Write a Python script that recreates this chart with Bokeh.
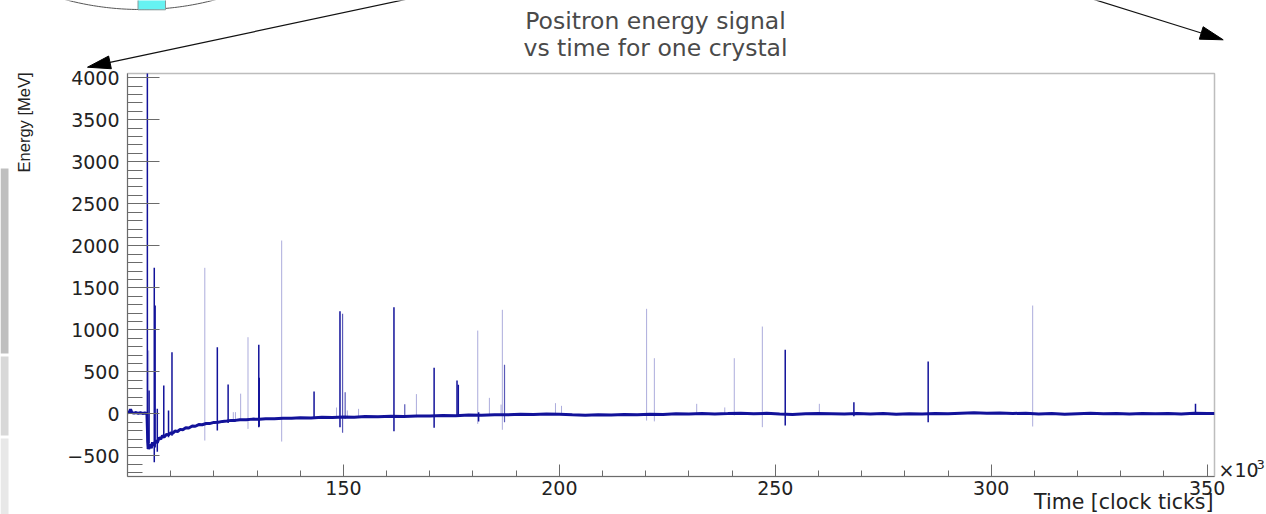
import numpy as np
from bokeh.plotting import figure
from bokeh.models import ColumnDataSource, FixedTicker, Range1d
from bokeh.core.properties import value
from bokeh.embed import file_html
from bokeh.resources import INLINE

# ---------------- data ----------------
base_t = [100.0, 100.4, 100.7, 101.0, 101.5, 102.0, 102.5, 103.0, 103.5, 104.0, 104.5,
          104.7, 104.9, 105.2, 105.5, 105.8, 106.1, 106.5, 106.9, 107.3, 107.7, 108.1,
          108.5, 109.0, 109.5, 110.0, 110.5, 111.0, 111.6, 112.2, 112.8, 113.5, 114.2,
          115.0, 115.7, 116.5, 117.3, 118.2, 119.0, 120.0, 121.0, 122.0, 123.0, 124.0,
          125.0, 126.0, 127.5, 129.0, 130.5, 132.0, 134.0, 136.0, 138.0, 140.0, 142.5,
          145.0, 147.5, 150.0, 152.5, 155.0, 158.0, 161.0, 164.0, 167.0, 170.0, 173.0,
          176.0, 179.0, 182.0, 185.0, 188.0, 191.0, 194.0, 197.0, 200.0, 203.0, 206.0,
          209.0, 212.0, 215.0, 218.0, 221.0, 224.0, 227.0, 230.0, 233.0, 236.0, 239.0,
          242.0, 245.0, 248.0, 251.0, 254.0, 257.0, 260.0, 263.0, 266.0, 269.0, 272.0,
          275.0, 278.0, 281.0, 284.0, 287.0, 290.0, 293.0, 296.0, 299.0, 302.0, 305.0,
          308.0, 311.0, 314.0, 317.0, 320.0, 323.0, 326.0, 329.0, 332.0, 335.0, 338.0,
          341.0, 344.0, 347.0, 350.0, 351.7]
base_e = [12, 18, 55, 14, 8, 15, 6, 12, 5, 10, 4,
          -330, -420, -360, -410, -340, -380, -320, -345, -285, -300, -262,
          -275, -245, -250, -228, -232, -205, -210, -185, -190, -165, -168,
          -145, -148, -128, -130, -115, -116, -102, -100, -90, -86, -78,
          -78, -70, -70, -63, -64, -58, -60, -52, -54, -47, -49,
          -42, -44, -37, -40, -33, -36, -30, -32, -25, -27, -20,
          -22, -15, -16, -10, -12, -6, -8, -2, -4, -12, -18,
          -10, -15, -8, -12, -4, -8, 1, -3, 4, -1, 3,
          8, 2, 6, -2, -8, 0, 5, 2, -3, 4, -2,
          3, -4, 2, -3, 5, 0, 8, 12, 6, 10, 4,
          8, -2, 3, -5, 2, 6, 0, 5, -2, 3, 0,
          4, -1, 6, 3, 5]

spike_t = [104.6, 104.9, 105.0, 106.2, 106.4, 106.9, 108.4, 109.5, 110.3, 117.9,
           120.8, 123.3, 124.5, 125.0, 126.2, 127.9, 130.4, 130.5, 135.7, 143.2,
           148.4, 149.2, 149.8, 150.4, 150.9, 153.5, 161.7, 164.2, 166.9, 171.0,
           176.3, 176.6, 181.1, 181.3, 183.8, 186.5, 186.8, 187.3, 199.1, 200.5,
           220.2, 222.0, 231.8, 238.3, 240.5, 247.0, 252.3, 260.2, 268.2, 285.4,
           309.6, 347.3]
spike_top = [4100, 754, 277, 1738, 1289, 60, 337, 40, 733, 1738,
             793, 349, 20, 20, 240, 912, 821, 428, 2063, 265,
             75, 1221, 1190, 257, 40, 59, 1269, 115, 235, 547,
             396, 345, 991, 20, 190, 110, 1238, 583, 127, 95,
             1250, 662, 119, 76, 662, 1039, 762, 119, 138, 623,
             1289, 119]
spike_bottom = [-420, -300, -350, -576, -400, -450, -290, -280, -260, -318,
                -199, -110, -90, -90, -80, -179, -159, -150, -330, -50,
                -40, -159, -226, -60, -50, -45, -207, -40, -40, -167,
                -30, -30, -120, -90, -20, -20, -190, -100, -10, -10,
                -80, -90, -10, -10, -20, -159, -139, -10, -30, -100,
                -151, -10]
spike_kind = ["dark", "light", "dark", "dark", "dark", "dark", "dark", "dark", "dark", "light",
              "dark", "dark", "light", "light", "light", "light", "dark", "dark", "light", "dark",
              "light", "dark", "mid", "mid", "light", "light", "dark", "mid", "light", "dark",
              "dark", "dark", "light", "dark", "light", "light", "light", "mid", "light", "light",
              "light", "light", "light", "light", "light", "light", "dark", "light", "dark", "dark",
              "light", "dark"]

x_major = [150, 200, 250, 300, 350]
x_minor = [110, 120, 130, 140, 160, 170, 180, 190, 210, 220, 230, 240, 260, 270, 280,
           290, 310, 320, 330, 340]
y_major = [-500, 0, 500, 1000, 1500, 2000, 2500, 3000, 3500, 4000]
y_minor = [v for v in range(-700, 4001, 100)]

title_lines = ["Positron energy signal", "vs time for one crystal"]
x_title = "Time [clock ticks]"
y_title = "Energy [MeV]"

# ---------------- layout ----------------
W, H = 1266, 514
FL, FR, FT, FB = 127, 1214, 73, 476      # frame edges in canvas pixels

LINE = "#12129a"
kind_alpha = {"dark": 1.0, "mid": 0.7, "light": 0.35}
kind_width = {"dark": 1.5, "mid": 1.2, "light": 1.0}

p = figure(width=W, height=H, output_backend="svg", toolbar_location=None,
           x_range=Range1d(100, 351.7), y_range=Range1d(-746, 4051),
           min_border_left=FL, min_border_right=W - FR,
           min_border_top=FT, min_border_bottom=H - FB)
p.background_fill_color = "white"
p.border_fill_color = "white"
p.grid.visible = False
p.outline_line_color = "#bdbdbd"
p.outline_line_width = 1.5

p.xaxis.ticker = FixedTicker(ticks=x_major, minor_ticks=x_minor)
p.yaxis.ticker = FixedTicker(ticks=y_major, minor_ticks=y_minor)
for ax in (p.xaxis, p.yaxis):
    ax.axis_line_color = "#6b6b6b"
    ax.major_tick_line_color = "#6b6b6b"
    ax.minor_tick_line_color = "#6b6b6b"
    ax.major_tick_out = 0
    ax.minor_tick_out = 0
    ax.major_label_text_font = "DejaVu Sans"
    ax.major_label_text_font_size = "19px"
    ax.major_label_text_color = "#222222"
p.xaxis.major_tick_in = 12
p.xaxis.minor_tick_in = 6
p.xaxis.major_label_standoff = 4
p.yaxis.major_tick_in = 32
p.yaxis.minor_tick_in = 15
p.yaxis.major_label_standoff = 8

src = ColumnDataSource(dict(
    t=spike_t, top=spike_top, bottom=spike_bottom,
    alpha=[kind_alpha[k] for k in spike_kind],
    w=[kind_width[k] for k in spike_kind]))
p.segment(x0="t", y0="bottom", x1="t", y1="top", source=src,
          line_color=LINE, line_alpha="alpha", line_width="w")
p.line(base_t, base_e, line_color=LINE, line_width=3)

# ---------------- overlay canvas (pixel space) for slide decorations & titles ----------------
d = figure(width=W, height=H, output_backend="svg", toolbar_location=None,
           x_range=Range1d(0, W), y_range=Range1d(H, 0),
           x_axis_type=None, y_axis_type=None, min_border=0)
d.background_fill_alpha = 0
d.border_fill_alpha = 0
d.outline_line_color = None
d.margin = (-H, 0, 0, 0)

TXT = "#222222"
d.text(x=[655, 655], y=[20, 47.4], text=title_lines, text_align="center",
       text_baseline="alphabetic", text_font=value("DejaVu Sans"),
       text_font_size="23.5px", text_color="#4a4a4a")
d.text(x=[23], y=[72], text=[y_title], angle=90, angle_units="deg",
       text_align="right", text_baseline="alphabetic",
       text_font=value("Liberation Sans"), text_font_size="16.5px", text_color=TXT)
d.text(x=[1213], y=[501], text=[x_title], text_align="right",
       text_baseline="alphabetic", text_font=value("DejaVu Sans"),
       text_font_size="20.5px", text_color=TXT)
d.text(x=[1218], y=[469], text=["\u00d710"], text_align="left",
       text_baseline="alphabetic", text_font=value("DejaVu Sans"),
       text_font_size="19px", text_color=TXT)
d.text(x=[1256], y=[464], text=["3"], text_align="left",
       text_baseline="alphabetic", text_font=value("DejaVu Sans"),
       text_font_size="13px", text_color=TXT)

# big circle at the top-left with a cyan crystal
cxs = np.linspace(40, 240, 80)
cys = -282 + np.sqrt(291.0 ** 2 - (cxs - 140) ** 2)
d.line(cxs, cys, line_color="#555555", line_width=1)
d.quad(left=[137.5], right=[165], top=[-10], bottom=[9.3],
       fill_color="#66f2f2", line_color="#8a9a9a", line_width=1)


def arrow(x0, y0, x1, y1):
    v = np.array([x1 - x0, y1 - y0], dtype=float)
    v /= np.hypot(*v)
    n = np.array([-v[1], v[0]])
    tip = np.array([x1, y1], dtype=float)
    base = tip - 23 * v
    c1 = base + 6.5 * n
    c2 = base - 6.5 * n
    d.line([x0, base[0]], [y0, base[1]], line_color="#111111", line_width=1.2)
    d.patch([tip[0], c1[0], c2[0]], [tip[1], c1[1], c2[1]],
            fill_color="black", line_color="black", line_width=1)


arrow(423.5, -5, 87, 66.7)
arrow(1080.7, -5, 1222.7, 39.3)

# grey bars at the left slide edge
d.quad(left=[0, 0, 0], right=[8, 8, 8], top=[168, 356, 438], bottom=[353, 435, 520],
       fill_color=["#bfbfbf", "#d8d8d8", "#e8e8e8"], line_alpha=0)

open("out.html", "w").write(file_html([p, d], INLINE))
